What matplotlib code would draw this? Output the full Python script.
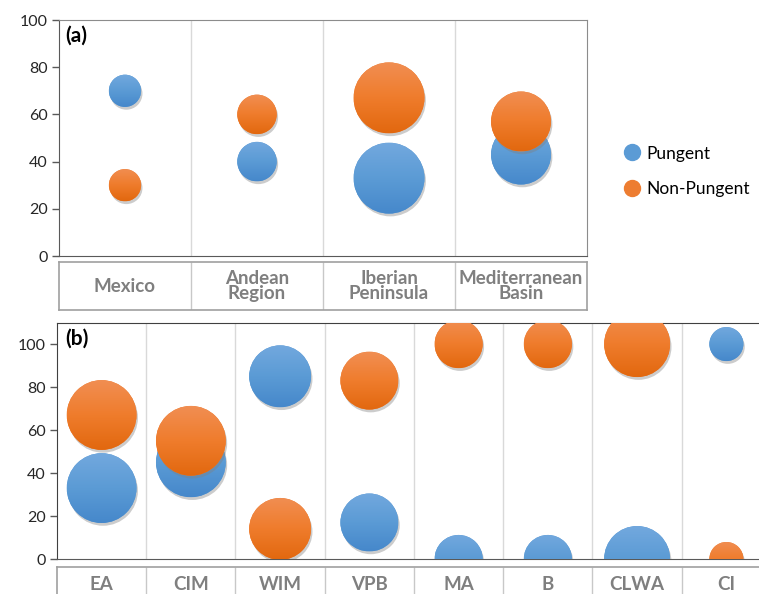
import numpy as np
import matplotlib
matplotlib.use("Agg")
import matplotlib.pyplot as plt
import matplotlib.patheffects as pe
import matplotlib.transforms as mtransforms
from matplotlib.colors import LinearSegmentedColormap
from matplotlib.lines import Line2D
from matplotlib.patches import Circle

plt.rcParams['font.family'] = ['Lato', 'DejaVu Sans']

# panel (a) data
regions = ["Mexico", "Andean\nRegion", "Iberian\nPeninsula", "Mediterranean\nBasin"]
pungent_a = [70, 40, 33, 43]
nonpungent_a = [30, 60, 67, 57]
weight_a = [2.6, 3.9, 12.6, 9.0]

# panel (b) data
groups = ["EA", "CIM", "WIM", "VPB", "MA", "B", "CLWA", "CI"]
pungent_b = [33, 45, 85, 17, 0, 0, 0, 100]
nonpungent_b = [67, 55, 14, 83, 100, 100, 100, 0]
weight_b = [12.2, 12.2, 9.6, 8.4, 5.8, 5.8, 10.9, 2.9]

BLUE = "#5B9BD5"
ORANGE = "#ED7D31"
blue_grad = LinearSegmentedColormap.from_list("bg", ["#4688CB", "#5B9BD5", "#72A8DE"])
orange_grad = LinearSegmentedColormap.from_list("og", ["#E2680F", "#EF7C2C", "#F18E52"])
size_scale = 207.0   # weight -> marker area (pt^2)

shadow = [pe.SimplePatchShadow(offset=(1.0, -2.0), shadow_rgbFace="#808080", alpha=0.4), pe.Normal()]

fig = plt.figure(figsize=(7.59, 5.94), dpi=100)
grad = np.linspace(0, 1, 64).reshape(-1, 1)


def shade(ax, x, y, s, cmap, z):
    # paint a vertical gradient over each bubble, clipped to its circle
    for xi, yi, si in zip(x, y, s):
        r = np.sqrt(si) / 2 / 72.0   # radius in inches
        tr = fig.dpi_scale_trans + mtransforms.ScaledTranslation(xi, yi, ax.transData)
        circ = Circle((0, 0), r, transform=tr)
        im = ax.imshow(grad, cmap=cmap, extent=(-r, r, -r, r), origin="lower",
                       transform=tr, zorder=z, interpolation="bilinear", aspect="auto")
        im.set_clip_path(circ)


def bubble_panel(ax, n, pung, nonp, weights, ymax, tag):
    x = np.arange(1, n + 1)
    s = np.array(weights) * size_scale
    ax.scatter(x, pung, s=s, color=BLUE, linewidths=0, zorder=3, path_effects=shadow)
    ax.scatter(x, nonp, s=s, color=ORANGE, linewidths=0, zorder=4, path_effects=shadow)
    ax.set_xlim(0.5, n + 0.5)
    ax.set_ylim(0, ymax)
    shade(ax, x, pung, s, blue_grad, 3.5)
    shade(ax, x, nonp, s, orange_grad, 4.5)
    ax.set_xlim(0.5, n + 0.5)
    ax.set_ylim(0, ymax)
    ax.set_yticks(range(0, 101, 20))
    ax.set_xticks([])
    ax.set_xticks(np.arange(1.5, n, 1.0), minor=True)
    ax.tick_params(axis="x", which="minor", length=0)
    ax.grid(True, which="minor", axis="x", color="#D9D9D9", lw=1)
    ax.set_axisbelow(True)
    ax.tick_params(axis="y", length=5, width=1, color="#595959", labelsize=11.5, labelcolor="#262626", pad=3)
    ax.text(0.011, 0.975, tag, transform=ax.transAxes, fontsize=15, fontweight="bold",
            va="top", ha="left", zorder=6)


def label_row(ax, n, labels, ty, edge, fs):
    ax.set_xlim(0.5, n + 0.5)
    ax.set_ylim(0, 1)
    ax.set_xticks([])
    ax.set_yticks([])
    for sp in ax.spines.values():
        sp.set_color(edge)
        sp.set_linewidth(1.2)
    ax.vlines(np.arange(1.5, n, 1.0), 0, 1, color="#C8C8C8", lw=1)
    for i, lab in enumerate(labels):
        ax.text(i + 1, ty, lab, ha="center", va="center", fontsize=fs, fontweight="bold",
                color="#7F7F7F", linespacing=0.85)


# ---- panel (a) ----
ax_a = fig.add_axes([0.0777, 0.569, 0.6957, 0.3973])
bubble_panel(ax_a, 4, pungent_a, nonpungent_a, weight_a, 100, "(a)")
for sp in ["top", "right"]:
    ax_a.spines[sp].set_color("#8C8C8C")
for sp in ["left", "bottom"]:
    ax_a.spines[sp].set_color("#595959")

lab_a = fig.add_axes([0.0777, 0.478, 0.6957, 0.081])
label_row(lab_a, 4, regions, 0.5, "#A0A0A0", 13.5)

# legend
handles = [Line2D([], [], marker="o", ls="", color=BLUE, markersize=11.5, label="Pungent"),
           Line2D([], [], marker="o", ls="", color=ORANGE, markersize=11.5, label="Non-Pungent")]
fig.legend(handles=handles, loc="center left", bbox_to_anchor=(0.8, 0.712), frameon=False,
           fontsize=12.5, handletextpad=0.35, labelspacing=1.1, handlelength=1.0)

# ---- panel (b) ----
ax_b = fig.add_axes([0.0751, 0.0589, 0.9407, 0.3973])
bubble_panel(ax_b, 8, pungent_b, nonpungent_b, weight_b, 109.8, "(b)")
ax_b.spines["top"].set_color("#404040")
ax_b.spines["right"].set_visible(False)
ax_b.spines["left"].set_color("#404040")
ax_b.spines["bottom"].set_color("#595959")

lab_b = fig.add_axes([0.0751, -0.03, 0.9407, 0.0755])
label_row(lab_b, 8, groups, 0.62, "#A0A0A0", 13.5)

fig.savefig("out.png", dpi=100)
